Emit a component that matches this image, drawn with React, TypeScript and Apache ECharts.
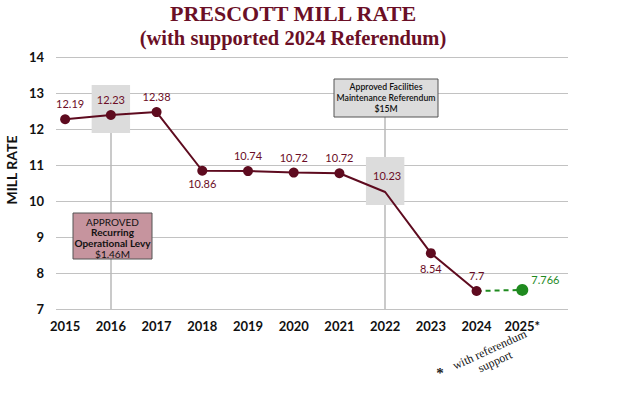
import React, { useEffect, useRef } from 'react';
import * as echarts from 'echarts';

const years = [2015, 2016, 2017, 2018, 2019, 2020, 2021, 2022, 2023, 2024];
const rates = [12.27, 12.39, 12.47, 10.84, 10.83, 10.79, 10.77, 10.25, 8.55, 7.5];
const rateLabels = ['12.19', '12.23', '12.38', '10.86', '10.74', '10.72', '10.72', '10.23', '8.54', '7.7'];
const projYears = [2024, 2025];
const projRates = [7.5, 7.53];
const projLabels = ['', '7.766'];
const tickYears = [2015, 2016, 2017, 2018, 2019, 2020, 2021, 2022, 2023, 2024, 2025];
const yMin = 7;
const yMax = 14;
const levyLines = ['APPROVED', 'Recurring', 'Operational Levy', '$1.46M'];
const referendumLines = ['Approved Facilities', 'Maintenance Referendum', '$15M'];

const MAROON = '#5e0b1f';
const LABEL_MAROON = '#6b0d26';
const GREEN = '#1f8a1f';
const SANS = 'Lato, "Open Sans", sans-serif';
const SERIF = '"Liberation Serif", "DejaVu Serif", serif';

export default function App() {
  const ref = useRef<HTMLDivElement>(null);
  useEffect(() => {
    if (!ref.current) return;
    const chart = echarts.init(ref.current, undefined, { renderer: 'svg' });

    const labelCfg = (i: number) => {
      const below = i === 3 || i === 8;
      const base: any = {
        show: true,
        position: below ? 'bottom' : 'top',
        color: LABEL_MAROON,
        fontFamily: SANS,
        fontSize: 11,
        formatter: () => rateLabels[i],
      };
      if (i === 0) base.offset = [5, 0];
      if (i === 3) base.offset = [0, -3];
      if (i === 7) base.offset = [2, -6];
      return base;
    };

    const mainData = years.map((y, i) => ({
      value: [y, rates[i]],
      symbolSize: i === 7 ? 0 : 10,
      label: labelCfg(i),
    }));

    const projData = projYears.map((y, i) => ({
      value: [y, projRates[i]],
      symbolSize: i === 0 ? 0 : 12,
      label: {
        show: projLabels[i] !== '',
        position: 'right',
        offset: [-2, -10],
        color: GREEN,
        fontFamily: SANS,
        fontSize: 11,
        formatter: () => projLabels[i],
      },
    }));

    const half = 0.42;
    const highlight = (yr: number, top: number, bottom: number) => [
      { xAxis: yr - half, yAxis: top, itemStyle: { color: '#dcdcdc' } },
      { xAxis: yr + half, yAxis: bottom },
    ];
    const leader = (yr: number, from: number, to: number) => [
      { coord: [yr, from] },
      { coord: [yr, to] },
    ];

    const levyText = levyLines.map((t, i) => ({
      type: 'text',
      z: 101,
      x: 39.5,
      y: 8.5 + i * 10.8,
      style: {
        text: t,
        font: `${i === 1 || i === 2 ? 'bold ' : ''}10px ${SANS}`,
        fill: '#111',
        textAlign: 'center',
        textVerticalAlign: 'middle',
      },
    }));
    const refText = referendumLines.map((t, i) => ({
      type: 'text',
      z: 101,
      x: 52,
      y: 7.5 + i * 11,
      style: {
        text: t,
        font: `600 8.7px ${SANS}`,
        fill: '#111',
        textAlign: 'center',
        textVerticalAlign: 'middle',
      },
    }));

    chart.setOption({
      animation: false,
      grid: { left: 56, right: 58, top: 57, bottom: 90 },
      xAxis: {
        type: 'value',
        min: 2014.8,
        max: 2026,
        axisLine: { show: false },
        axisTick: { show: false },
        splitLine: { show: false },
        axisLabel: {
          customValues: tickYears,
          formatter: (v: number) => (v === 2025 ? '2025*' : String(v)),
          color: '#111',
          fontFamily: SANS,
          fontWeight: 'bold',
          fontSize: 13,
          margin: 10,
        },
      },
      yAxis: {
        type: 'value',
        min: yMin,
        max: yMax,
        interval: 1,
        axisLine: { show: false },
        axisTick: { show: false },
        splitLine: { lineStyle: { color: '#c2c2c2', width: 1 } },
        axisLabel: {
          color: '#111',
          fontFamily: SANS,
          fontWeight: 'bold',
          fontSize: 13,
          margin: 12,
        },
      },
      series: [
        {
          type: 'line',
          z: 1,
          data: [],
          silent: true,
          markArea: {
            silent: true,
            data: [highlight(2016, 13.22, 11.89), highlight(2022, 11.22, 9.89)],
          },
          markLine: {
            silent: true,
            symbol: 'none',
            label: { show: false },
            lineStyle: { color: '#b8b8b8', width: 1.5, type: 'solid' },
            data: [leader(2016, 11.89, 7), leader(2022, 12.33, 11.22), leader(2022, 9.89, 7)],
          },
        },
        {
          type: 'line',
          z: 3,
          data: projData,
          symbol: 'circle',
          itemStyle: { color: GREEN },
          lineStyle: { color: GREEN, width: 2, type: [5, 4] },
        },
        {
          type: 'line',
          z: 4,
          data: mainData,
          symbol: 'circle',
          itemStyle: { color: MAROON },
          lineStyle: { color: MAROON, width: 2 },
        },
      ],
      graphic: [
        {
          type: 'text',
          x: 293,
          y: 13,
          style: {
            text: 'PRESCOTT MILL RATE',
            font: `bold 22px ${SERIF}`,
            fill: '#6b0f26',
            textAlign: 'center',
            textVerticalAlign: 'middle',
          },
        },
        {
          type: 'text',
          x: 293,
          y: 38,
          style: {
            text: '(with supported 2024 Referendum)',
            font: `bold 20.5px ${SERIF}`,
            fill: '#6b0f26',
            textAlign: 'center',
            textVerticalAlign: 'middle',
          },
        },
        {
          type: 'text',
          x: 11,
          y: 170,
          rotation: Math.PI / 2,
          style: {
            text: 'MILL RATE',
            font: `bold 14px ${SANS}`,
            fill: '#111',
            textAlign: 'center',
            textVerticalAlign: 'middle',
          },
        },
        {
          type: 'group',
          x: 73,
          y: 213,
          z: 100,
          children: [
            {
              type: 'rect',
              z: 100,
              shape: { x: 0, y: 0, width: 79, height: 46 },
              style: { fill: '#c6949e', stroke: '#555', lineWidth: 1 },
            },
            ...levyText,
          ],
        },
        {
          type: 'group',
          x: 334,
          y: 79,
          z: 100,
          children: [
            {
              type: 'rect',
              z: 100,
              shape: { x: 0, y: 0, width: 104, height: 38 },
              style: { fill: '#dcdcdc', stroke: '#555', lineWidth: 1 },
            },
            ...refText,
          ],
        },
        {
          type: 'text',
          x: 440,
          y: 373,
          style: {
            text: '*',
            font: `bold 15px ${SERIF}`,
            fill: '#222',
            textAlign: 'center',
            textVerticalAlign: 'middle',
          },
        },
        {
          type: 'group',
          x: 492,
          y: 355,
          rotation: 0.43,
          children: [
            {
              type: 'text',
              x: 0,
              y: -6,
              style: {
                text: 'with referendum',
                font: `12px ${SERIF}`,
                fill: '#111',
                textAlign: 'center',
                textVerticalAlign: 'middle',
              },
            },
            {
              type: 'text',
              x: 0,
              y: 7,
              style: {
                text: 'support',
                font: `12px ${SERIF}`,
                fill: '#111',
                textAlign: 'center',
                textVerticalAlign: 'middle',
              },
            },
          ],
        },
      ],
    });
    return () => chart.dispose();
  }, []);
  return (
    <div
      ref={ref}
      style={{ position: 'absolute', left: 0, top: 0, width: 626, height: 399, background: '#fff' }}
    />
  );
}
